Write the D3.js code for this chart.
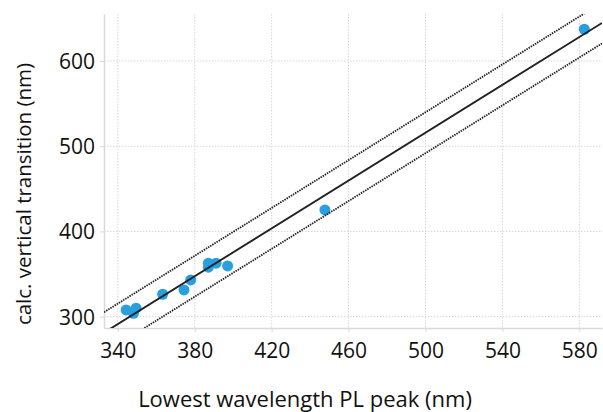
<!DOCTYPE html>
<html>
<head>
<meta charset="utf-8">
<script src="https://cdn.jsdelivr.net/npm/d3@7"></script>
<style>
  body { margin: 0; background: #fff; }
  text { font-family: "Open Sans", "Noto Sans", sans-serif; fill: #111; }
</style>
</head>
<body>
<div class="chart"></div>
<script>
// measured peak positions (nm)
const plPeak = [344.3, 349.5, 348.1, 363.3, 374.4, 377.9, 387.1, 387.1, 391.1, 397.1, 447.7, 582.6];
const calcTransition = [307.9, 309.9, 304.0, 326.3, 331.3, 343.1, 362.7, 358.0, 362.7, 359.5, 425.2, 637.2];
const xTicks = [340, 380, 420, 460, 500, 540, 580];
const yTicks = [300, 400, 500, 600];
// linear fit and prediction band
const fitSlope = 1.403;
const fitIntercept = -185.7;
const bandHalfWidth = 24;

const width = 603;
const height = 412;
const plot = { left: 104, top: 14, right: 602, bottom: 328 };

const svg = d3.select(".chart")
    .append("svg")
    .attr("width", width)
    .attr("height", height);

const x = d3.scaleLinear().domain([332.8, 591.8]).range([plot.left, plot.right]);
const y = d3.scaleLinear().domain([286.7, 655.1]).range([plot.bottom, plot.top]);

svg.append("clipPath")
    .attr("id", "clip")
    .append("rect")
    .attr("x", plot.left)
    .attr("y", plot.top)
    .attr("width", plot.right - plot.left)
    .attr("height", plot.bottom - plot.top);

// grid
const grid = svg.append("g");
grid.selectAll("line.vx")
    .data(xTicks)
    .enter()
    .append("line")
    .attr("x1", d => x(d)).attr("x2", d => x(d))
    .attr("y1", plot.top).attr("y2", plot.bottom)
    .attr("stroke", "#d6d6d6")
    .attr("stroke-dasharray", "1.5,1.5");
grid.selectAll("line.hy")
    .data(yTicks)
    .enter()
    .append("line")
    .attr("x1", plot.left).attr("x2", plot.right)
    .attr("y1", d => y(d)).attr("y2", d => y(d))
    .attr("stroke", "#d6d6d6")
    .attr("stroke-dasharray", "1.5,1.5");

// axes
const xAxis = svg.append("g")
    .attr("transform", `translate(0,${plot.bottom})`)
    .call(d3.axisBottom(x).tickValues(xTicks).tickSize(4).tickSizeOuter(0));
const yAxis = svg.append("g")
    .attr("transform", `translate(${plot.left},0)`)
    .call(d3.axisLeft(y).tickValues(yTicks).tickSize(4).tickSizeOuter(0));

[xAxis, yAxis].forEach(a => {
    a.select(".domain").attr("stroke", "#d9d9d9").attr("stroke-width", 1.5);
    a.selectAll(".tick line").attr("stroke", "#d9d9d9");
    a.selectAll(".tick text")
        .style("font-family", "'Open Sans', 'Noto Sans', sans-serif")
        .style("font-size", "21px")
        .attr("fill", "#111");
});
xAxis.selectAll(".tick text").attr("dy", null).attr("y", 30);
yAxis.selectAll(".tick text").attr("x", -9).attr("dy", "0.35em");

// points
svg.append("g")
    .selectAll("circle")
    .data(plPeak.map((d, i) => [d, calcTransition[i]]))
    .enter()
    .append("circle")
    .attr("cx", d => x(d[0]))
    .attr("cy", d => y(d[1]))
    .attr("r", 5.5)
    .attr("fill", "#299fe0");

// fit line and band
const xDomain = x.domain();
const lines = svg.append("g").attr("clip-path", "url(#clip)");
[
    { off: 0, dash: null, w: 1.9 },
    { off: bandHalfWidth, dash: "1.5,1", w: 1.8 },
    { off: -bandHalfWidth, dash: "1.5,1", w: 1.8 }
].forEach(l => {
    lines.append("line")
        .attr("x1", x(xDomain[0]))
        .attr("y1", y(fitSlope * xDomain[0] + fitIntercept + l.off))
        .attr("x2", x(xDomain[1]))
        .attr("y2", y(fitSlope * xDomain[1] + fitIntercept + l.off))
        .attr("stroke", "#222")
        .attr("stroke-width", l.w)
        .attr("stroke-dasharray", l.dash);
});

// axis titles
svg.append("text")
    .attr("x", 305)
    .attr("y", 407)
    .attr("text-anchor", "middle")
    .style("font-size", "22px")
    .text("Lowest wavelength PL peak (nm)");

svg.append("text")
    .attr("transform", "translate(31,194) rotate(-90)")
    .attr("text-anchor", "middle")
    .style("font-size", "20.5px")
    .text("calc. vertical transition (nm)");
</script>
</body>
</html>
